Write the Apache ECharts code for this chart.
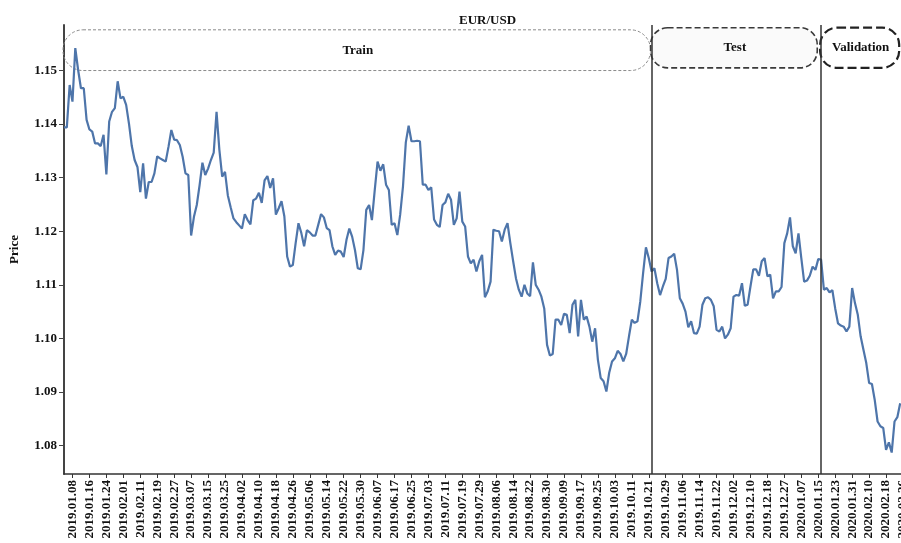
<!DOCTYPE html>
<html>
<head>
<meta charset="utf-8">
<script src="https://cdn.jsdelivr.net/npm/echarts@6/dist/echarts.min.js"></script>
<style>
html,body{margin:0;padding:0;background:#fff;}
#chart{width:901px;height:543px;}
</style>
</head>
<body>
<div id="chart"></div>
<script>
// ---- data ----
const startDate = '2019-01-03';
const endDate = '2020-02-26';
const holidays = ['2019-12-25', '2020-01-01'];
const tickLabels = ['2019.01.08','2019.01.16','2019.01.24','2019.02.01','2019.02.11','2019.02.19','2019.02.27','2019.03.07','2019.03.15','2019.03.25','2019.04.02','2019.04.10','2019.04.18','2019.04.26','2019.05.06','2019.05.14','2019.05.22','2019.05.30','2019.06.07','2019.06.17','2019.06.25','2019.07.03','2019.07.11','2019.07.19','2019.07.29','2019.08.06','2019.08.14','2019.08.22','2019.08.30','2019.09.09','2019.09.17','2019.09.25','2019.10.03','2019.10.11','2019.10.21','2019.10.29','2019.11.06','2019.11.14','2019.11.22','2019.12.02','2019.12.10','2019.12.18','2019.12.27','2020.01.07','2020.01.15','2020.01.23','2020.01.31','2020.02.10','2020.02.18','2020.02.26'];
const price = [
1.1394,1.1394,1.1473,1.1442,1.1542,1.1501,1.1467,1.1467,1.1408,1.1390,
1.1386,1.1364,1.1364,1.1359,1.1380,1.1306,1.1405,1.1423,1.1430,1.1480,
1.1448,1.1451,1.1436,1.1401,1.1359,1.1333,1.1320,1.1273,1.1327,1.1261,
1.1292,1.1292,1.1308,1.1340,1.1336,1.1333,1.1330,1.1358,1.1389,1.1371,
1.1370,1.1361,1.1339,1.1308,1.1305,1.1192,1.1227,1.1249,1.1286,1.1328,
1.1305,1.1317,1.1333,1.1347,1.1423,1.1352,1.1302,1.1311,1.1267,1.1245,
1.1224,1.1217,1.1211,1.1205,1.1232,1.1221,1.1213,1.1258,1.1261,1.1272,
1.1253,1.1295,1.1303,1.1281,1.1299,1.1231,1.1243,1.1256,1.1228,1.1153,
1.1134,1.1137,1.1178,1.1215,1.1197,1.1172,1.1202,1.1198,1.1192,1.1192,
1.1212,1.1232,1.1226,1.1206,1.1202,1.1172,1.1156,1.1164,1.1162,1.1152,
1.1184,1.1205,1.1190,1.1165,1.1131,1.1129,1.1165,1.1240,1.1249,1.1221,
1.1277,1.1330,1.1313,1.1325,1.1287,1.1277,1.1212,1.1215,1.1193,1.1231,
1.1284,1.1366,1.1397,1.1368,1.1368,1.1369,1.1368,1.1287,1.1287,1.1277,
1.1282,1.1222,1.1212,1.1208,1.1249,1.1254,1.1270,1.1259,1.1212,1.1224,
1.1274,1.1218,1.1209,1.1153,1.1140,1.1147,1.1125,1.1144,1.1156,1.1077,
1.1088,1.1106,1.1203,1.1201,1.1200,1.1181,1.1203,1.1215,1.1178,1.1144,
1.1112,1.1091,1.1078,1.1100,1.1084,1.1079,1.1142,1.1100,1.1091,1.1078,
1.1056,1.0988,1.0968,1.0971,1.1035,1.1035,1.1025,1.1046,1.1044,1.1010,
1.1063,1.1072,1.1004,1.1072,1.1035,1.1041,1.1022,1.0994,1.1019,1.0960,
1.0926,1.0920,1.0901,1.0936,1.0957,1.0963,1.0977,1.0971,1.0957,1.0971,
1.1004,1.1035,1.1029,1.1032,1.1069,1.1122,1.1170,1.1150,1.1125,1.1131,
1.1103,1.1081,1.1097,1.1111,1.1150,1.1153,1.1158,1.1128,1.1075,1.1065,
1.1050,1.1021,1.1032,1.1010,1.1009,1.1022,1.1063,1.1075,1.1077,1.1072,
1.1060,1.1016,1.1013,1.1022,1.1000,1.1007,1.1019,1.1078,1.1081,1.1080,
1.1103,1.1061,1.1063,1.1097,1.1129,1.1129,1.1117,1.1144,1.1150,1.1116,
1.1119,1.1075,1.1088,1.1088,1.1096,1.1178,1.1196,1.1226,1.1172,1.1159,
1.1196,1.1150,1.1106,1.1108,1.1117,1.1134,1.1128,1.1148,1.1147,1.1091,
1.1094,1.1086,1.1090,1.1056,1.1028,1.1024,1.1022,1.1013,1.1022,1.1094,
1.1066,1.1044,1.1004,1.0979,1.0954,1.0917,1.0915,1.0885,1.0845,1.0836,
1.0833,1.0792,1.0806,1.0787,1.0845,1.0853,1.0879
];
const yTicks = [1.08, 1.09, 1.10, 1.11, 1.12, 1.13, 1.14, 1.15];
const splitDates = ['2019.10.22', '2020.01.16'];
const sections = [
  {name: 'Train', x0: '2019.01.03', x1: '2019.10.22', y0: 1.1500, y1: 1.1576, style: 'train'},
  {name: 'Test', x0: '2019.10.22', x1: '2020.01.15', y0: 1.1505, y1: 1.1580, style: 'test'},
  {name: 'Validation', x0: '2020.01.16', x1: '2020.02.25', y0: 1.1505, y1: 1.1580, style: 'val'}
];

// trading-day categories
function pad(n){return n<10?'0'+n:''+n;}
const categories = [];
(function(){
  const d = new Date(startDate + 'T00:00:00Z');
  const end = new Date(endDate + 'T00:00:00Z');
  while (d <= end) {
    const wd = d.getUTCDay();
    const iso = d.getUTCFullYear()+'-'+pad(d.getUTCMonth()+1)+'-'+pad(d.getUTCDate());
    if (wd !== 0 && wd !== 6 && holidays.indexOf(iso) < 0) {
      categories.push(iso.replace(/-/g, '.'));
    }
    d.setUTCDate(d.getUTCDate()+1);
  }
})();
const tickSet = new Set(tickLabels);
const showTick = (idx) => tickSet.has(categories[idx]);

const FONT = '"Liberation Serif", "Times New Roman", serif';
const chart = echarts.init(document.getElementById('chart'), null, {renderer: 'canvas'});
const option = {
  animation: false,
  backgroundColor: '#fff',
  title: {
    text: 'EUR/USD', left: 454, top: 9,
    textStyle: {fontFamily: FONT, fontWeight: 'bold', fontSize: 13, color: '#111'}
  },
  grid: {left: 64, right: -2, top: 25, bottom: 69, containLabel: false, outerBoundsMode: 'none'},
  xAxis: {
    type: 'category', data: categories, boundaryGap: false,
    axisLine: {show: true, lineStyle: {color: '#333', width: 1.5}},
    axisTick: {show: true, interval: showTick, length: 4, lineStyle: {color: '#333', width: 1}},
    axisLabel: {interval: showTick, rotate: 90, margin: 6, hideOverlap: false, fontFamily: FONT, fontWeight: 'bold', fontSize: 13, color: '#111'},
    splitLine: {show: false}
  },
  yAxis: {
    type: 'value', min: 1.0747, max: 1.1585,
    name: 'Price', nameLocation: 'middle', nameGap: 43, nameRotate: 90,
    nameTextStyle: {fontFamily: FONT, fontWeight: 'bold', fontSize: 13, color: '#111'},
    axisLine: {show: true, lineStyle: {color: '#444', width: 2}},
    axisTick: {show: true, length: 5, customValues: yTicks, lineStyle: {color: '#444'}},
    axisLabel: {customValues: yTicks, margin: 7, formatter: v => v.toFixed(2), fontFamily: FONT, fontWeight: 'bold', fontSize: 13, color: '#111'},
    splitLine: {show: false}
  },
  series: [{
    type: 'line', data: price, showSymbol: false, symbol: 'none',
    lineStyle: {color: '#4e75aa', width: 2.2}, z: 3,
    markLine: {
      silent: true, symbol: ['none', 'none'], label: {show: false},
      lineStyle: {color: '#333', width: 1.5, type: 'solid'},
      data: splitDates.map(d => ({xAxis: d}))
    }
  }]
};
chart.setOption(option);

// annotation boxes, positioned from data coordinates
const styles = {
  train: {stroke: '#8a8a8a', lineWidth: 1, lineDash: [3, 2], fill: 'rgba(255,255,255,0)', r: 20},
  test:  {stroke: '#3a3a3a', lineWidth: 1.6, lineDash: [6, 3], fill: '#fafafa', r: 17},
  val:   {stroke: '#222', lineWidth: 2.2, lineDash: [9, 4], fill: 'rgba(255,255,255,0)', r: 17}
};
const graphics = [];
sections.forEach(s => {
  const xa = chart.convertToPixel({xAxisIndex: 0}, s.x0);
  const xb = chart.convertToPixel({xAxisIndex: 0}, s.x1);
  const ya = chart.convertToPixel({yAxisIndex: 0}, s.y1);
  const yb = chart.convertToPixel({yAxisIndex: 0}, s.y0);
  const st = styles[s.style];
  graphics.push({
    type: 'rect', z: 1,
    shape: {x: xa - 1, y: ya, width: xb - xa, height: yb - ya, r: st.r},
    style: {stroke: st.stroke, lineWidth: st.lineWidth, lineDash: st.lineDash, fill: st.fill}
  });
  graphics.push({
    type: 'text', z: 5,
    x: (xa + xb) / 2, y: (ya + yb) / 2,
    style: {text: s.name, textAlign: 'center', textVerticalAlign: 'middle', font: 'bold 13px ' + FONT, fill: '#111'}
  });
});
chart.setOption({graphic: graphics});
</script>
</body>
</html>
